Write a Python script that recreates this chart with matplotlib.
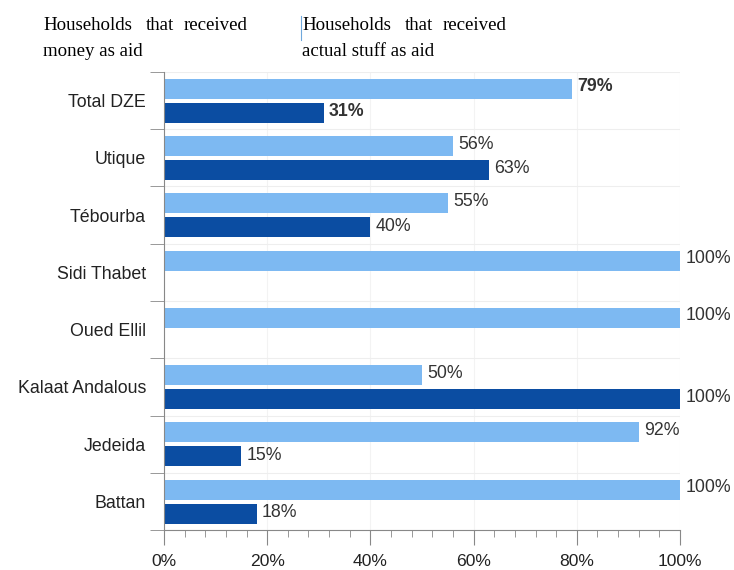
import numpy as np
import matplotlib.pyplot as plt
from matplotlib.ticker import MultipleLocator, PercentFormatter

# Share of households by locality (percent)
places = ["Total DZE", "Utique", "Tébourba", "Sidi Thabet",
          "Oued Ellil", "Kalaat Andalous", "Jedeida", "Battan"]
stuff_aid = [79, 56, 55, 100, 100, 50, 92, 100]   # light bars
money_aid = [31, 63, 40, 0, 0, 100, 15, 18]       # dark bars

light = "#7db9f2"
dark = "#0b4da2"
sans = "Liberation Sans"

fig = plt.figure(figsize=(7.34, 5.70), dpi=100)
ax = fig.add_axes([164 / 734, 40 / 570, 516 / 734, 458 / 570])

y = np.arange(len(places))
h = 0.35
ax.barh(y - 0.205, stuff_aid, height=h, color=light, zorder=2)
ax.barh(y + 0.215, money_aid, height=h, color=dark, zorder=2)

# value labels, the total row in bold
for i, (a, b) in enumerate(zip(stuff_aid, money_aid)):
    weight = "bold" if i == 0 else "normal"
    ax.text(a + 1.0, i - 0.24, f"{a}%", va="center", ha="left",
            fontsize=12.8, fontweight=weight, color="#333333", family=sans)
    if b > 0:
        ax.text(b + 1.0, i + 0.19, f"{b}%", va="center", ha="left",
                fontsize=12.8, fontweight=weight, color="#333333", family=sans)

ax.set_xlim(0, 100)
ax.set_ylim(len(places) - 0.5, -0.5)

ax.set_yticks(y)
ax.set_yticklabels(places, fontsize=12.8, family=sans, color="#222222")
ax.set_yticks(np.arange(len(places) + 1) - 0.5, minor=True)
ax.tick_params(axis="y", which="major", length=0, pad=13)
ax.tick_params(axis="y", which="minor", length=10, color="#888888")

ax.xaxis.set_major_locator(MultipleLocator(20))
ax.xaxis.set_minor_locator(MultipleLocator(4))
ax.xaxis.set_major_formatter(PercentFormatter(decimals=0))
ax.tick_params(axis="x", which="major", length=11, color="#888888",
               labelsize=12.6, labelcolor="#222222", pad=6)
ax.tick_params(axis="x", which="minor", length=5, color="#888888")
for lab in ax.get_xticklabels():
    lab.set_family(sans)

ax.grid(axis="y", which="minor", color="#eeeeee", linewidth=0.8, zorder=0)
ax.grid(axis="x", which="major", color="#f3f3f3", linewidth=0.8, zorder=0)

for side in ["top", "right"]:
    ax.spines[side].set_visible(False)
for side in ["left", "bottom"]:
    ax.spines[side].set_color("#888888")

# header text, justified like the source
hdr = dict(fontsize=13.6, family="Liberation Serif", color="black", va="center")
for x, w in [(43, "Households"), (146, "that"), (184, "received")]:
    fig.text(x / 734, 1 - 26 / 570, w, **hdr)
fig.text(43 / 734, 1 - 52 / 570, "money as aid", **hdr)
for x, w in [(302, "Households"), (405, "that"), (443, "received")]:
    fig.text(x / 734, 1 - 26 / 570, w, **hdr)
fig.text(302 / 734, 1 - 52 / 570, "actual stuff as aid", **hdr)
fig.add_artist(plt.Line2D([301 / 734, 301 / 734], [1 - 40 / 570, 1 - 16 / 570],
                          color="#6fa8dc", linewidth=0.8))

fig.savefig("out.png", dpi=100)
